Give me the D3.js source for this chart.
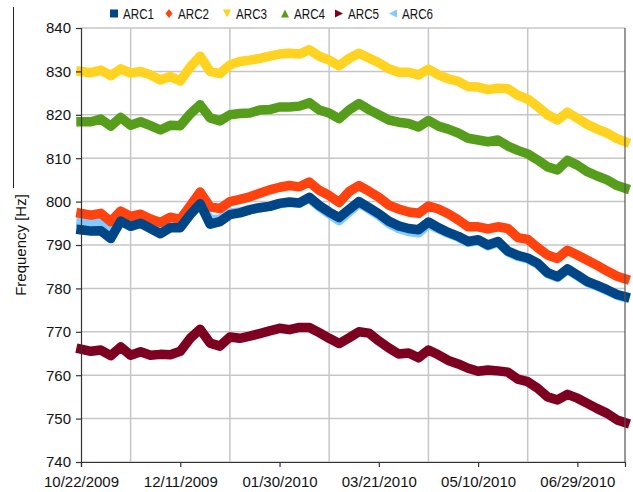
<!DOCTYPE html>
<html>
<head>
<meta charset="utf-8">
<script src="https://cdn.jsdelivr.net/npm/d3@7"></script>
<style>
  html, body { margin: 0; padding: 0; background: #fff; }
  svg { display: block; font-family: "Liberation Sans", Arial, sans-serif; }
</style>
</head>
<body>
<svg id="chart" width="633" height="492"></svg>
<script>
// Sample dates, as days after 10/22/2009
const startDate = "2009-10-22";
const endDate = "2010-07-23";
const sampleDays = [0,5,10,15,20,25,30,35,40,45,50,55,60,65,70,75,80,85,90,95,
  100,105,110,115,120,125,130,135,140,145,150,155,160,165,170,175,180,185,190,195,
  200,205,210,215,220,225,230,235,240,245,250,255,260,265,270,274];

const seriesNames = ["ARC1", "ARC2", "ARC3", "ARC4", "ARC5", "ARC6"];
const seriesColors = ["#004586", "#ff420e", "#ffd320", "#579d1c", "#7e0021", "#83caff"];

// Frequencies in Hz
const arc1 = [793.5,793.2,793.3,791.5,795.5,794.3,795.0,793.8,792.6,794.0,
  794.0,797.0,799.5,794.8,795.4,797.0,797.4,798.1,798.6,798.9,
  799.6,799.9,799.7,801.0,799.1,797.6,796.3,798.2,800.0,798.6,
  797.2,795.5,794.4,793.8,793.5,795.3,794.0,792.9,792.0,790.8,
  791.2,790.0,790.8,788.6,787.6,787.0,785.8,783.6,782.7,784.5,
  783.1,781.6,780.7,779.7,778.6,778.1];
const arc2 = [797.3,796.9,797.3,795.4,797.8,796.6,797.1,796.0,795.2,796.4,
  795.9,799.0,802.2,798.8,798.4,800.0,800.5,801.1,801.9,802.7,
  803.3,803.7,803.4,804.5,802.6,801.4,799.8,802.3,803.7,802.4,
  801.0,799.2,798.3,797.6,797.3,799.0,798.3,797.2,795.8,794.2,
  794.2,793.7,794.2,793.8,791.7,791.3,789.4,787.7,786.9,788.8,
  787.7,786.5,785.3,784.0,782.8,782.2];
const arc3 = [830.0,829.7,830.3,829.0,830.6,829.6,830.0,829.2,828.0,828.8,
  827.8,831.0,833.5,830.0,829.5,831.5,832.3,832.6,833.0,833.5,
  834.0,834.2,834.0,835.0,833.5,832.6,831.3,833.0,834.2,833.1,
  832.0,830.6,829.8,829.8,829.2,830.5,829.2,828.3,827.7,826.5,
  826.4,825.8,826.1,826.0,824.5,823.6,821.9,820.0,818.8,820.6,
  819.2,817.8,816.7,815.8,814.5,813.8];
const arc4 = [818.4,818.4,819.0,817.4,819.4,817.6,818.4,817.5,816.5,817.6,
  817.5,820.2,822.3,819.3,818.6,820.0,820.3,820.4,821.1,821.2,
  821.8,821.8,822.0,822.8,821.1,820.4,819.1,821.1,822.6,821.2,
  820.0,818.8,818.3,818.0,817.2,818.7,817.4,816.7,815.8,814.6,
  814.2,813.8,814.2,812.8,811.8,811.0,809.6,808.0,807.3,809.5,
  808.4,806.9,805.9,805.0,803.7,803.1];
const arc5 = [766.0,765.5,765.8,764.5,766.5,764.6,765.4,764.6,764.8,764.7,
  765.5,768.5,770.6,767.4,766.7,768.8,768.5,769.0,769.6,770.2,
  770.8,770.5,771.0,771.0,769.8,768.5,767.3,768.6,770.0,769.7,
  767.9,766.3,764.9,765.1,764.0,765.8,764.7,763.4,762.6,761.6,
  760.9,761.2,761.0,760.7,759.1,758.5,757.0,755.0,754.3,755.6,
  754.7,753.5,752.3,751.2,749.7,749.1];
const arc6 = [795.2,795.0,795.3,793.6,796.4,795.4,796.0,794.6,793.4,794.8,
  794.7,797.6,799.8,795.8,796.0,797.4,797.6,798.2,798.6,798.9,
  799.5,799.8,799.6,800.8,798.8,797.2,795.6,797.6,799.6,798.3,
  796.8,795.0,793.8,793.1,792.8,794.8,793.7,792.7,791.8,790.6,
  791.0,789.8,790.6,788.4,787.4,786.8,785.6,783.4,782.5,784.3,
  782.9,781.4,780.5,779.5,778.4,777.9];
const seriesValues = [arc1, arc2, arc3, arc4, arc5, arc6];

// Axis labels
const xTickLabels = ["10/22/2009", "12/11/2009", "01/30/2010", "03/21/2010", "05/10/2010", "06/29/2010"];
const xGridDates = ["11/16/2009", "01/05/2010", "02/24/2010", "04/15/2010", "06/04/2010"];
const yTicks = [740, 750, 760, 770, 780, 790, 800, 810, 820, 830, 840];
const yTitle = "Frequency [Hz]";

const svg = d3.select("#chart");
const margin = { left: 81, right: 8, top: 28, bottom: 30 };
const W = 633, H = 492;

const parseIso = d3.utcParse("%Y-%m-%d");
const parseUs = d3.utcParse("%m/%d/%Y");
const t0 = parseIso(startDate);
const dayMs = 864e5;
const toDate = d => new Date(t0.getTime() + d * dayMs);

const x = d3.scaleUtc()
  .domain([t0, parseIso(endDate)])
  .range([margin.left, W - margin.right]);
const y = d3.scaleLinear()
  .domain([740, 840])
  .range([H - margin.bottom, margin.top]);

const gridColor = "#c6c6c6";
const axisColor = "#333";

// Horizontal grid lines
svg.append("g").selectAll("line").data(yTicks).join("line")
  .attr("x1", margin.left).attr("x2", W - margin.right)
  .attr("y1", d => y(d)).attr("y2", d => y(d))
  .attr("stroke", gridColor).attr("stroke-width", 1.5);

// Vertical grid lines between labelled dates
svg.append("g").selectAll("line").data(xGridDates.map(parseUs)).join("line")
  .attr("x1", d => x(d)).attr("x2", d => x(d))
  .attr("y1", margin.top).attr("y2", H - margin.bottom)
  .attr("stroke", gridColor).attr("stroke-width", 1.5);

// Series bands, light blue underneath the rest
const line = d3.line()
  .x((v, i) => x(toDate(sampleDays[i])))
  .y(v => y(v))
  .curve(d3.curveLinear);
const drawOrder = [5, 4, 3, 2, 1, 0];
svg.append("g").selectAll("path").data(drawOrder).join("path")
  .attr("d", k => line(seriesValues[k]))
  .attr("fill", "none")
  .attr("stroke", k => seriesColors[k])
  .attr("stroke-width", 9.5)
  .attr("stroke-linejoin", "round")
  .attr("stroke-linecap", "square");

// Right frame edge
svg.append("line")
  .attr("x1", W - margin.right).attr("x2", W - margin.right)
  .attr("y1", margin.top).attr("y2", H - margin.bottom)
  .attr("stroke", "#555").attr("stroke-width", 1.2);

// Y axis
const yAxis = d3.axisLeft(y).tickValues(yTicks).tickSize(5).tickPadding(5).tickFormat(d3.format("d"));
const gy = svg.append("g").attr("transform", `translate(${margin.left},0)`).call(yAxis);
gy.select(".domain").attr("stroke", axisColor).attr("stroke-width", 1.2);
gy.selectAll(".tick line").attr("stroke", axisColor).attr("stroke-width", 1.2);
gy.selectAll(".tick text").attr("font-size", 15).attr("fill", "#111")
  .attr("font-family", "Liberation Sans, Arial, sans-serif");

// X axis
const xAxis = d3.axisBottom(x).tickValues(xTickLabels.map(parseUs)).tickSize(5).tickPadding(9)
  .tickFormat(d3.utcFormat("%m/%d/%Y"));
const gx = svg.append("g").attr("transform", `translate(0,${H - margin.bottom})`).call(xAxis);
gx.select(".domain").attr("stroke", axisColor).attr("stroke-width", 1.2);
gx.selectAll(".tick line").attr("stroke", axisColor).attr("stroke-width", 1.2);
gx.selectAll(".tick text").attr("font-size", 15).attr("fill", "#111")
  .attr("font-family", "Liberation Sans, Arial, sans-serif");

// Y axis title
svg.append("text")
  .attr("transform", `translate(26,${(margin.top + H - margin.bottom) / 2}) rotate(-90)`)
  .attr("text-anchor", "middle")
  .attr("font-size", 15)
  .attr("fill", "#111")
  .text(yTitle);

// Thin rule at the far left
svg.append("line")
  .attr("x1", 13.5).attr("x2", 13.5).attr("y1", 7).attr("y2", 188)
  .attr("stroke", "#222").attr("stroke-width", 1);

// Legend
const legendMarkerX = [114, 169, 227, 285, 339, 393];
const s = 4;
const markerPaths = [
  `M${-s},${-s}H${s}V${s}H${-s}Z`,
  `M0,${-s - 0.5}L${s - 0.5},0L0,${s + 0.5}L${-s + 0.5},0Z`,
  `M${-s},${-s}H${s}L0,${s}Z`,
  `M${-s},${s}H${s}L0,${-s}Z`,
  `M${-s},${-s}L${s},0L${-s},${s}Z`,
  `M${s},${-s}L${-s},0L${s},${s}Z`
];
const legend = svg.append("g");
const items = legend.selectAll("g").data(seriesNames).join("g")
  .attr("transform", (d, i) => `translate(${legendMarkerX[i]},13.5)`);
items.append("path")
  .attr("d", (d, i) => markerPaths[i])
  .attr("fill", (d, i) => seriesColors[i]);
items.append("text")
  .attr("x", 9).attr("y", 5)
  .attr("font-size", 14)
  .attr("textLength", 31).attr("lengthAdjust", "spacingAndGlyphs")
  .attr("fill", "#111")
  .text(d => d);
</script>
</body>
</html>
